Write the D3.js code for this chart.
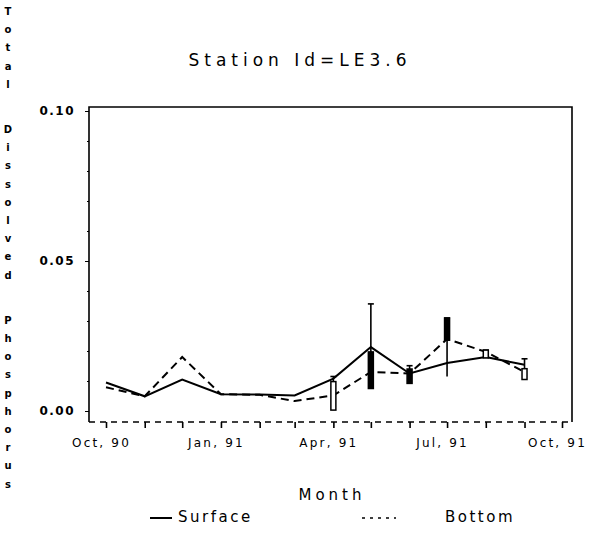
<!DOCTYPE html>
<html>
<head>
<meta charset="utf-8">
<script src="https://cdn.jsdelivr.net/npm/d3@7"></script>
<style>
  body { margin: 0; background: #fff; }
  svg text { font-family: "DejaVu Sans", sans-serif; fill: #000; }
</style>
</head>
<body>
<div class="chart"></div>
<script>
/* data */
const months = ["1990-10-01","1990-11-01","1990-12-01","1991-01-01","1991-02-01","1991-03-01",
                "1991-04-01","1991-05-01","1991-06-01","1991-07-01","1991-08-01","1991-09-01"];
const surface = [0.0095, 0.0049, 0.0105, 0.0056, 0.0055, 0.0052, 0.0108, 0.0213, 0.0125, 0.0160, 0.0180, 0.0154];
const bottom  = [0.0079, 0.0049, 0.0180, 0.0056, 0.0054, 0.0033, 0.0052, 0.0130, 0.0125, 0.0240, 0.0197, 0.0130];

/* hi-lo bars (Apr - Sep) */
const barMonths = ["1991-04-01","1991-05-01","1991-06-01","1991-07-01","1991-08-01","1991-09-01"];
const barHi  = [0.0115, 0.0357, 0.0151, 0.0310, 0.0203, 0.0174];
const barLo  = [0.0003, 0.0075, 0.0092, 0.0115, 0.0177, 0.0105];
const boxHi  = [0.0098, 0.0197, 0.0140, 0.0310, 0.0203, 0.0141];
const boxLo  = [0.0003, 0.0075, 0.0092, 0.0236, 0.0177, 0.0105];
const boxKind = ["Bottom","Surface","Surface","Surface","Bottom","Bottom"];

const yMajor = [0, 0.05, 0.10];
const yMinor = [0.01,0.02,0.03,0.04,0.06,0.07,0.08,0.09];
const xLabelMonths = ["1990-10-01","1991-01-01","1991-04-01","1991-07-01","1991-10-01"];
const yTitle = "Total Dissolved Phosphorus";

const svg_width = 594, svg_height = 554;
const frame = {left: 89, right: 572, top: 107, bottom: 422};

const parse = d3.timeParse("%Y-%m-%d");
const svg = d3.select(".chart").append("svg")
    .attr("width", svg_width).attr("height", svg_height);

/* scales */
const xScale = d3.scaleTime()
    .domain([parse("1990-10-01"), parse("1991-10-01")])
    .range([106, 562]);
const yScale = d3.scaleLinear().domain([0, 0.1]).range([411, 111]);

/* frame */
svg.append("path")
    .attr("d", `M${frame.left},${frame.bottom}V${frame.top}H${frame.right}V${frame.bottom}`)
    .attr("fill", "none").attr("stroke", "#000").attr("stroke-width", 1.6);
svg.append("line")
    .attr("x1", frame.left).attr("x2", frame.right)
    .attr("y1", frame.bottom).attr("y2", frame.bottom)
    .attr("stroke", "#000").attr("stroke-width", 1.4).attr("stroke-dasharray", "6,5");

/* y axis */
const yAxis = d3.axisLeft(yScale).tickValues(yMajor).tickFormat(d3.format(".2f"))
    .tickSize(4).tickPadding(10);
const yG = svg.append("g").attr("transform", `translate(${frame.left},0)`).call(yAxis);
yG.select(".domain").remove();
yG.selectAll("text").style("font-size", "12px").style("letter-spacing", "1.5px")
    .style("font-weight", "bold").style("font-family", "DejaVu Sans, sans-serif");
const yMinorAxis = d3.axisLeft(yScale).tickValues(yMinor).tickFormat("").tickSize(2);
svg.append("g").attr("transform", `translate(${frame.left},0)`).call(yMinorAxis)
    .select(".domain").remove();

/* x axis */
const xAxis = d3.axisBottom(xScale).ticks(d3.timeMonth.every(1))
    .tickFormat(d => xLabelMonths.includes(d3.timeFormat("%Y-%m-%d")(d)) ? d3.timeFormat("%b, %y")(d) : "")
    .tickSize(6).tickPadding(10);
const xG = svg.append("g").attr("transform", `translate(0,${frame.bottom})`).call(xAxis);
xG.select(".domain").remove();
xG.selectAll("line").attr("stroke-width", 1.6);
xG.selectAll("text").attr("dx", -5).style("font-size", "12px").style("letter-spacing", "2.2px")
    .style("font-family", "DejaVu Sans, sans-serif");

/* lines */
const lineGen = d3.line().x(d => xScale(d.date)).y(d => yScale(d.value));
const series = [
    {name: "Surface", values: months.map((m, i) => ({date: parse(m), value: surface[i]})), dash: null},
    {name: "Bottom",  values: months.map((m, i) => ({date: parse(m), value: bottom[i]})),  dash: "8,5"}
];
svg.append("g").selectAll("path").data(series).join("path")
    .attr("d", d => lineGen(d.values))
    .attr("fill", "none").attr("stroke", "#000").attr("stroke-width", 2)
    .attr("stroke-dasharray", d => d.dash);

/* hi-lo bars */
const bars = barMonths.map((m, i) => ({date: parse(m), hi: barHi[i], lo: barLo[i],
    bHi: boxHi[i], bLo: boxLo[i], kind: boxKind[i]}));
const barG = svg.append("g").selectAll("g").data(bars).join("g")
    .attr("transform", d => `translate(${xScale(d.date)},0)`);
barG.append("line").attr("y1", d => yScale(d.hi)).attr("y2", d => yScale(d.lo))
    .attr("stroke", "#000").attr("stroke-width", 1.6);
barG.append("line").attr("x1", -3).attr("x2", 3)
    .attr("y1", d => yScale(d.hi)).attr("y2", d => yScale(d.hi))
    .attr("stroke", "#000").attr("stroke-width", 1.6);
barG.append("rect").attr("x", -2.5).attr("width", 5)
    .attr("y", d => yScale(d.bHi)).attr("height", d => yScale(d.bLo) - yScale(d.bHi))
    .attr("fill", d => d.kind === "Surface" ? "#000" : "#fff")
    .attr("stroke", "#000").attr("stroke-width", 1.5);

/* title */
svg.append("text").attr("x", 300).attr("y", 66).attr("text-anchor", "middle")
    .style("font-size", "17px").style("letter-spacing", "5px").text("Station Id=LE3.6");

/* x title */
svg.append("text").attr("x", 332).attr("y", 500).attr("text-anchor", "middle")
    .style("font-size", "15px").style("letter-spacing", "4px").text("Month");

/* y title, stacked letters */
let ty = 15;
const yt = svg.append("g");
yTitle.split("").forEach(ch => {
    if (ch === " ") { ty += 27; return; }
    yt.append("text").attr("x", 8).attr("y", ty).attr("text-anchor", "middle")
        .style("font-size", "10px").style("font-weight", "bold").text(ch);
    ty += 18.2;
});

/* legend */
const legend = svg.append("g").attr("transform", "translate(0,522)");
legend.append("line").attr("x1", 150).attr("x2", 172).attr("y1", -4).attr("y2", -4)
    .attr("stroke", "#000").attr("stroke-width", 2);
legend.append("text").attr("x", 178).attr("y", 0).style("font-size", "15px")
    .style("letter-spacing", "2.5px").text("Surface");
legend.append("line").attr("x1", 362).attr("x2", 396).attr("y1", -4).attr("y2", -4)
    .attr("stroke", "#000").attr("stroke-width", 1.5).attr("stroke-dasharray", "3,5");
legend.append("text").attr("x", 445).attr("y", 0).style("font-size", "15px")
    .style("letter-spacing", "2.5px").text("Bottom");
</script>
</body>
</html>
